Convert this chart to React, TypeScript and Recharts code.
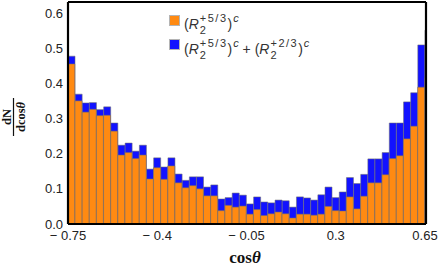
import React from 'react'
import { ComposedChart, Bar, XAxis, YAxis, Label } from 'recharts'

// bin centres (bins are 0.028 wide, starting at -0.75)
const binCenters = [
  -0.736, -0.708, -0.68, -0.652, -0.624, -0.596, -0.568, -0.54, -0.512, -0.484,
  -0.456, -0.428, -0.4, -0.372, -0.344, -0.316, -0.288, -0.26, -0.232, -0.204,
  -0.176, -0.148, -0.12, -0.092, -0.064, -0.036, -0.008, 0.02, 0.048, 0.076,
  0.104, 0.132, 0.16, 0.188, 0.216, 0.244, 0.272, 0.3, 0.328, 0.356,
  0.384, 0.412, 0.44, 0.468, 0.496, 0.524, 0.552, 0.58, 0.608, 0.636, 0.664,
]

// (R2^{+5/3})^c
const orangeVals = [
  0.455, 0.35, 0.318, 0.326, 0.308, 0.309, 0.264, 0.196, 0.203, 0.186,
  0.196, 0.128, 0.16, 0.127, 0.165, 0.117, 0.103, 0.109, 0.1, 0.08,
  0.08, 0.038, 0.053, 0.048, 0.051, 0.028, 0.041, 0.024, 0.029, 0.034,
  0.029, 0.017, 0.028, 0.028, 0.025, 0.028, 0.05, 0.038, 0.037, 0.077,
  0.043, 0.079, 0.117, 0.117, 0.14, 0.186, 0.194, 0.242, 0.278, 0.389, 0.416,
]

// (R2^{+5/3})^c + (R2^{+2/3})^c
const blueVals = [
  0.477, 0.369, 0.344, 0.345, 0.325, 0.333, 0.287, 0.224, 0.23, 0.207,
  0.224, 0.156, 0.188, 0.162, 0.188, 0.142, 0.124, 0.134, 0.134, 0.105,
  0.111, 0.071, 0.075, 0.088, 0.082, 0.057, 0.077, 0.0625, 0.06, 0.068,
  0.066, 0.048, 0.077, 0.074, 0.068, 0.083, 0.105, 0.075, 0.091, 0.132,
  0.115, 0.141, 0.185, 0.185, 0.203, 0.287, 0.287, 0.347, 0.373, 0.509, 0.551,
]

const xTicks = [-0.75, -0.4, -0.05, 0.3, 0.65]
const yTicks = [0, 0.1, 0.2, 0.3, 0.4, 0.5, 0.6]
const yMinorTicks = [
  0.02, 0.04, 0.06, 0.08, 0.12, 0.14, 0.16, 0.18, 0.22, 0.24, 0.26, 0.28,
  0.32, 0.34, 0.36, 0.38, 0.42, 0.44, 0.46, 0.48, 0.52, 0.54, 0.56, 0.58, 0.62,
]
const xDomain = [-0.75, 0.654]
const yDomain = [0, 0.631]

const data = binCenters.map((x, i) => ({ x, orange: orangeVals[i], blue: blueVals[i] }))

const ORANGE = '#ff8a12'
const BLUE = '#1212ff'
const EDGE = 'rgba(110,110,110,0.55)'
const tickFont = { fill: '#222', fontSize: 13, fontFamily: '"Liberation Sans", Arial, sans-serif' }

const fmtX = (v: number) => (v < 0 ? '\u2212 ' + Math.abs(v) : String(v))

const XLabel = (props: any) => {
  const vb = props.viewBox
  return (
    <text x={vb.x + vb.width / 2 - 2} y={vb.y + 39} textAnchor="middle"
      style={{ fontFamily: '"Liberation Serif", "Times New Roman", serif', fontWeight: 'bold', fontSize: 17, fill: '#111' }}>
      cos<tspan fontStyle="italic">θ</tspan>
    </text>
  )
}

const YLabel = (props: any) => {
  const vb = props.viewBox
  const cx = 13.5
  const cy = vb.y + vb.height / 2 + 4
  const f = { fontFamily: '"Liberation Serif", "Times New Roman", serif', fontWeight: 'bold', fontSize: 12.5, fill: '#111' }
  return (
    <g transform={`translate(${cx},${cy}) rotate(-90)`}>
      <text x={0} y={-3} textAnchor="middle" style={f}>dN</text>
      <line x1={-19} x2={19} y1={0} y2={0} stroke="#111" strokeWidth={1.2} />
      <text x={0} y={11} textAnchor="middle" style={f}>
        dcos<tspan fontStyle="italic">θ</tspan>
      </text>
    </g>
  )
}

const RTerm = ({ sup }: { sup: string }) => (
  <span>
    (<span style={{ fontStyle: 'italic' }}>R</span>
    <span style={{ display: 'inline-block', position: 'relative', fontSize: 11, marginLeft: 1 }}>
      <span style={{ position: 'relative', top: -7, letterSpacing: 1.5 }}>{sup}</span>
      <span style={{ position: 'absolute', left: 0, top: 5 }}>2</span>
    </span>
    )<span style={{ position: 'relative', top: -7, fontSize: 11, fontStyle: 'italic', marginLeft: 1 }}>c</span>
  </span>
)

const swatch = (color: string, top: number) => (
  <div style={{ position: 'absolute', left: 169, top, width: 9, height: 9, background: color, border: '1px solid #b4b4b4' }} />
)

export default function App() {
  return (
    <div style={{ position: 'absolute', left: 0, top: 0, width: 442, height: 268, background: '#fff' }}>
      <ComposedChart width={442} height={268} data={data}
        margin={{ top: 2, right: 16, left: 0, bottom: 0 }}
        barCategoryGap={0} barGap="-100%">
        <XAxis xAxisId="b" dataKey="x" type="number" domain={xDomain} allowDataOverflow
          ticks={xTicks} interval={0} tickFormatter={fmtX} height={44}
          tickSize={0} tickMargin={7} tickLine={false}
          axisLine={{ stroke: '#000', strokeWidth: 2.2 }} tick={tickFont}>
          <Label content={XLabel} />
        </XAxis>
        <YAxis yAxisId="l" type="number" domain={yDomain} allowDataOverflow
          ticks={yTicks} interval={0} tickFormatter={(v: number) => v.toFixed(1)} width={68}
          tickSize={0} tickMargin={5} tickLine={false}
          axisLine={{ stroke: '#000', strokeWidth: 2.2 }} tick={tickFont}>
          <Label content={YLabel} />
        </YAxis>

        <Bar xAxisId="b" yAxisId="l" dataKey="blue" fill={BLUE} stroke={EDGE} strokeWidth={1} isAnimationActive={false} />
        <Bar xAxisId="b" yAxisId="l" dataKey="orange" fill={ORANGE} stroke={EDGE} strokeWidth={1} isAnimationActive={false} />

        {/* inward ticks and the rest of the frame */}
        <XAxis xAxisId="bt" type="number" domain={xDomain} allowDataOverflow orientation="bottom" mirror
          ticks={xTicks} interval={0} tick={false} tickSize={4} axisLine={false}
          tickLine={{ stroke: '#000', strokeWidth: 1.5 }} />
        <XAxis xAxisId="top" type="number" domain={xDomain} allowDataOverflow orientation="top" mirror
          ticks={[]} tick={false} tickLine={false} axisLine={{ stroke: '#000', strokeWidth: 2.2 }} />
        <YAxis yAxisId="lt" type="number" domain={yDomain} allowDataOverflow orientation="left" mirror
          ticks={yTicks} interval={0} tick={false} tickSize={4} axisLine={false}
          tickLine={{ stroke: '#000', strokeWidth: 1.5 }} />
        <YAxis yAxisId="lm" type="number" domain={yDomain} allowDataOverflow orientation="left" mirror
          ticks={yMinorTicks} interval={0} tick={false} tickSize={2} axisLine={false}
          tickLine={{ stroke: '#000', strokeWidth: 1.2 }} />
        <YAxis yAxisId="r" type="number" domain={yDomain} allowDataOverflow orientation="right" mirror
          ticks={[]} tick={false} tickLine={false} axisLine={{ stroke: '#000', strokeWidth: 2.2 }} />
      </ComposedChart>

      {swatch(ORANGE, 15)}
      {swatch(BLUE, 39)}
      <div style={{ position: 'absolute', left: 184, top: 16, fontSize: 14, lineHeight: '16px', color: '#333',
        fontFamily: '"Liberation Sans", Arial, sans-serif', whiteSpace: 'nowrap' }}>
        <RTerm sup="+5/3" />
      </div>
      <div style={{ position: 'absolute', left: 184, top: 41, fontSize: 14, lineHeight: '16px', color: '#333',
        fontFamily: '"Liberation Sans", Arial, sans-serif', whiteSpace: 'nowrap' }}>
        <RTerm sup="+5/3" /> + <RTerm sup="+2/3" />
      </div>
    </div>
  )
}
